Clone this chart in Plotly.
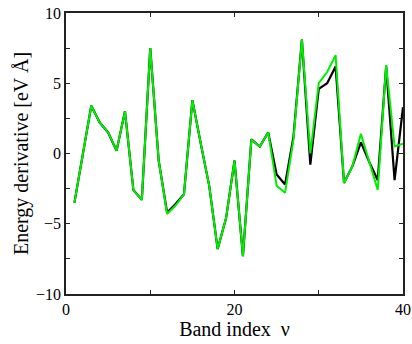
import plotly.graph_objects as go

band = list(range(1, 41))
black_vals = [-3.5, -0.1, 3.4, 2.2, 1.5, 0.2, 3.0, -2.6, -3.3, 7.5,
              -0.5, -4.2, -3.6, -2.9, 3.8, 0.7, -2.3, -6.8, -4.6, -0.5,
              -7.3, 1.0, 0.5, 1.5, -1.5, -2.2, 1.2, 8.1, -0.8, 4.6,
              5.0, 6.2, -2.1, -0.9, 0.8, -0.6, -1.9, 6.2, -1.9, 3.3]
green_vals = [-3.5, -0.1, 3.4, 2.2, 1.5, 0.2, 3.0, -2.6, -3.3, 7.5,
              -0.5, -4.3, -3.7, -2.9, 3.8, 0.7, -2.3, -6.8, -4.6, -0.5,
              -7.3, 1.0, 0.5, 1.5, -2.3, -2.8, 1.0, 8.1, 0.0, 5.0,
              5.8, 7.0, -2.1, -0.9, 1.4, -0.6, -2.6, 6.3, 0.5, 0.7]

SERIF = "Liberation Serif, Times New Roman, serif"

fig = go.Figure()
fig.add_trace(go.Scatter(x=band, y=black_vals, mode="lines",
                         line=dict(color="black", width=2.2)))
fig.add_trace(go.Scatter(x=band, y=green_vals, mode="lines",
                         line=dict(color="#00ee00", width=2)))

axis_common = dict(showgrid=False, zeroline=False, showline=True, automargin=False,
                   linecolor="#222", linewidth=1.5, mirror="allticks",
                   ticks="inside", ticklen=4, tickcolor="#222", tickwidth=1,
                   tickfont=dict(family=SERIF, size=16, color="black"))

fig.update_layout(
    width=412, height=344,
    margin=dict(l=66, r=9, t=13, b=50),
    paper_bgcolor="white", plot_bgcolor="white",
    showlegend=False,
    font=dict(family=SERIF, color="black"),
    xaxis=dict(range=[0, 40], tickvals=[0, 20, 40], ticktext=["0", "20", "40"],
               minor=dict(tickvals=[10, 30], ticks="inside", ticklen=4, tickcolor="#222"),
               title=dict(text="Band index  ν", standoff=2,
                          font=dict(family=SERIF, size=20, color="black")),
               **axis_common),
    yaxis=dict(range=[-10, 10], tickvals=[-10, -5, 0, 5, 10],
               ticktext=["−10", "−5", "0", "5", "10"],
               minor=dict(tickvals=[-7.5, -2.5, 2.5, 7.5], ticks="inside", ticklen=4, tickcolor="#222"),
               title=dict(text="Energy derivative [eV Å]", standoff=2,
                          font=dict(family=SERIF, size=20, color="black")),
               **axis_common),
)

fig.write_html("out.html")
